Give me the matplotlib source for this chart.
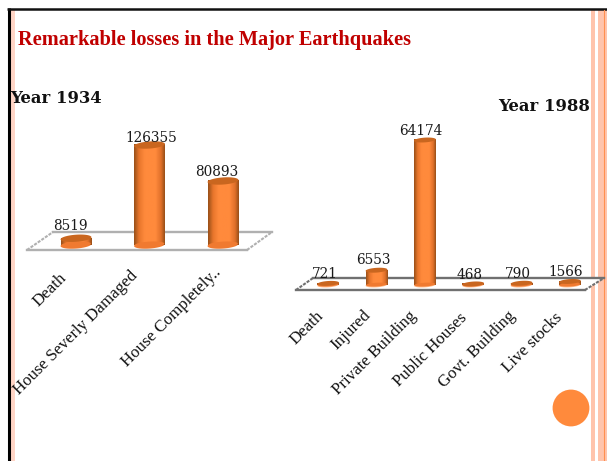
"""Remarkable losses in the Major Earthquakes: 3D-look cylinder bars, 1934 vs 1988."""

import matplotlib
matplotlib.use("Agg")
import matplotlib.pyplot as plt
import numpy as np
from matplotlib.colors import LinearSegmentedColormap
from matplotlib.patches import Circle, Polygon, Rectangle

W, H = 607, 461

labels_1934 = ["Death", "House Severly Damaged", "House Completely.."]
values_1934 = [8519, 126355, 80893]
labels_1988 = ["Death", "Injured", "Private Building", "Public Houses", "Govt. Building", "Live stocks"]
values_1988 = [721, 6553, 64174, 468, 790, 1566]

ORANGE = "#ff8a3c"
DARK = "#9a5018"
TOP = "#c9661f"

plt.rcParams["font.family"] = ["Liberation Serif", "DejaVu Serif"]

fig = plt.figure(figsize=(W / 100, H / 100), dpi=100)
bg = fig.add_axes([0, 0, 1, 1])
bg.set_xlim(0, W)
bg.set_ylim(H, 0)
bg.axis("off")

cyl_cmap = LinearSegmentedColormap.from_list(
    "cyl", [(0, DARK), (0.16, "#e8762c"), (0.35, ORANGE), (0.7, ORANGE), (0.88, "#e0702a"), (1, DARK)])


def px_axes(x0, x1, y_top, y_base):
    ax = fig.add_axes([x0 / W, 1 - y_base / H, (x1 - x0) / W, (y_base - y_top) / H])
    ax.patch.set_alpha(0)
    ax.axis("off")
    return ax


def ellipse_pts(cx, cy, w, h):
    # slightly tilted ellipse, right side higher
    t = np.linspace(0, 2 * np.pi, 60)
    return np.column_stack([cx + w / 2 * np.cos(t), cy + h / 2 * np.sin(t) + h * 0.15 * np.cos(t)])


def cylinders(ax, values, width, ell_h, label_dx, label_gap, base_color):
    grad = np.linspace(0, 1, 64).reshape(1, -1)
    for i, v in enumerate(values):
        x0, x1 = i - width / 2, i + width / 2
        ax.add_patch(Polygon(ellipse_pts(i, 0, width, ell_h), fc=base_color, ec="none", zorder=2, clip_on=False))
        im = ax.imshow(grad, cmap=cyl_cmap, extent=[x0, x1, 0, v], aspect="auto", zorder=2)
        im.set_clip_on(False)
        ax.add_patch(Polygon(ellipse_pts(i, ell_h * 0.08, width * 0.96, ell_h * 0.8), fc="#f07a30", ec="none",
                             zorder=2, clip_on=False))
        ax.add_patch(Polygon(ellipse_pts(i, v, width, ell_h), fc=TOP, ec="none", zorder=3, clip_on=False))
        ax.text(i + label_dx[i], v + label_gap[i], str(v), ha="center", va="bottom", fontsize=9.8,
                family=["DejaVu Serif"], color="#1a1a1a", zorder=4, clip_on=False)
    ax.set_xlim(-0.5, len(values) - 0.5)


def floor(front, back, color):
    (fx0, fx1, fy), (bx0, bx1, by) = front, back
    bg.add_patch(Polygon([(fx0, fy), (fx1, fy), (bx1, by), (bx0, by)], closed=True, fc="white", ec="none"))
    bg.plot([fx0, fx1], [fy, fy], color=color, lw=1.7)
    bg.plot([bx0, bx1], [by, by], color=color, lw=1.7)
    bg.plot([fx0, bx0], [fy, by], color=color, lw=1.5, ls=(0, (1.5, 0.6)))
    bg.plot([fx1, bx1], [fy, by], color=color, lw=1.5, ls=(0, (1.5, 0.6)))


# frame and side stripes
bg.plot([8.5, 8.5], [8.5, H], color="black", lw=2.2, solid_capstyle="butt")
bg.plot([7, W], [9.5, 9.5], color="#111111", lw=1.8, solid_capstyle="butt")
bg.add_patch(Rectangle((11, 10.5), 3.5, H, fc="#ffd5c6", ec="none"))
bg.add_patch(Rectangle((591, 10.5), 3.8, H, fc="#ffc4ac", ec="none"))
bg.add_patch(Rectangle((598, 10.5), 9, H, fc="#ffc4ac", ec="none"))
bg.plot([603.7, 603.7], [10.5, H], color="#ff8f4f", lw=0.8)

floor((27, 247, 250), (53, 272, 232), "#b0b0b0")
floor((296, 585, 290), (313, 604, 278), "#707070")

ax1 = px_axes(39.25, 259.75, 145, 245)
ax1.set_ylim(0, max(values_1934))
cylinders(ax1, values_1934, 0.42, 9000, [-0.07, 0.03, -0.08], [6300, 0, 2500], "#f07a30")

ax2 = px_axes(304, 594, 140, 285)
ax2.set_ylim(0, max(values_1988))
cylinders(ax2, values_1988, 0.45, 2100, [-0.07, -0.07, -0.08, -0.08, -0.07, -0.08],
          [1000, 1400, 1000, 1000, 1000, 1000], "#ffb98a")

bg.text(18, 40, "Remarkable losses in the Major Earthquakes", color="#c00000", fontsize=14.7,
        fontweight="bold", va="center", ha="left")
bg.text(10, 98, "Year 1934", fontsize=11.85, fontweight="bold", family=["DejaVu Serif"], va="center", color="#111111")
bg.text(590, 106, "Year 1988", fontsize=11.85, fontweight="bold", family=["DejaVu Serif"], va="center", ha="right",
        color="#111111")

# rotated category labels, right end anchored under each bar
ends_1934 = [(64, 276), (135, 273), (219, 270)]
ends_1988 = [(321, 314), (368, 313), (414, 314), (465, 316), (513, 314), (560, 315)]
for lab, (x, y) in zip(labels_1934 + labels_1988, ends_1934 + ends_1988):
    bg.text(x, y, lab, rotation=45, rotation_mode="anchor", ha="right", va="center", fontsize=12.2, color="#111111")

bg.add_patch(Circle((571, 408), 18.4, fc=ORANGE, ec="none"))

fig.savefig("out.png", dpi=100)
